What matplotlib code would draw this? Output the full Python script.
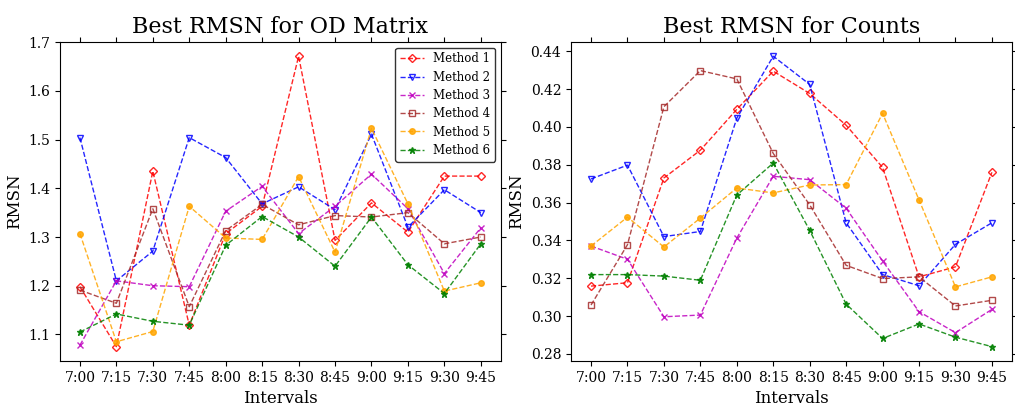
import matplotlib
matplotlib.use("Agg")
import matplotlib.pyplot as plt

plt.rcParams['font.family'] = 'DejaVu Serif'

intervals = ["7:00", "7:15", "7:30", "7:45", "8:00", "8:15",
             "8:30", "8:45", "9:00", "9:15", "9:30", "9:45"]

# Best RMSN for OD matrix
od_m1 = [1.198, 1.075, 1.435, 1.119, 1.307, 1.363, 1.671, 1.293, 1.370, 1.310, 1.425, 1.425]
od_m2 = [1.504, 1.210, 1.271, 1.504, 1.463, 1.368, 1.403, 1.356, 1.511, 1.320, 1.397, 1.350]
od_m3 = [1.078, 1.210, 1.200, 1.198, 1.353, 1.404, 1.307, 1.363, 1.429, 1.358, 1.225, 1.319]
od_m4 = [1.191, 1.164, 1.358, 1.157, 1.313, 1.367, 1.325, 1.344, 1.341, 1.350, 1.286, 1.300]
od_m5 = [1.307, 1.085, 1.106, 1.363, 1.298, 1.295, 1.424, 1.269, 1.523, 1.368, 1.189, 1.206]
od_m6 = [1.105, 1.142, 1.127, 1.119, 1.283, 1.342, 1.300, 1.240, 1.341, 1.243, 1.184, 1.286]

# Best RMSN for counts
ct_m1 = [0.3158, 0.3176, 0.3730, 0.3877, 0.4093, 0.4295, 0.4177, 0.4009, 0.3786, 0.3207, 0.3260, 0.3760]
ct_m2 = [0.3725, 0.3798, 0.3420, 0.3447, 0.4046, 0.4374, 0.4225, 0.3493, 0.3219, 0.3160, 0.3379, 0.3493]
ct_m3 = [0.3370, 0.3300, 0.2996, 0.3005, 0.3412, 0.3739, 0.3721, 0.3570, 0.3291, 0.3023, 0.2912, 0.3035]
ct_m4 = [0.3058, 0.3377, 0.4107, 0.4298, 0.4254, 0.3860, 0.3588, 0.3268, 0.3198, 0.3207, 0.3053, 0.3083]
ct_m5 = [0.3370, 0.3523, 0.3365, 0.3518, 0.3677, 0.3651, 0.3693, 0.3695, 0.4072, 0.3614, 0.3154, 0.3207]
ct_m6 = [0.3219, 0.3219, 0.3211, 0.3189, 0.3640, 0.3809, 0.3453, 0.3063, 0.2881, 0.2958, 0.2888, 0.2838]

labels = ["Method 1", "Method 2", "Method 3", "Method 4", "Method 5", "Method 6"]
colors = ["red", "blue", "m", "brown", "orange", "green"]
markers = ["D", "v", "x", "s", "o", "*"]
filled = [False, False, True, False, True, True]

fig, axes = plt.subplots(1, 2, figsize=(10.15, 4.09), dpi=100)
fig.subplots_adjust(left=0.059, right=0.997, top=0.898, bottom=0.117, wspace=0.159)

panels = [
    (axes[0], [od_m1, od_m2, od_m3, od_m4, od_m5, od_m6], "Best RMSN for OD Matrix"),
    (axes[1], [ct_m1, ct_m2, ct_m3, ct_m4, ct_m5, ct_m6], "Best RMSN for Counts"),
]

for ax, series, title in panels:
    for vals, lab, c, mk, fl in zip(series, labels, colors, markers, filled):
        ax.plot(intervals, vals, linestyle='--', marker=mk, color=c, label=lab,
                linewidth=1, markersize=4 if mk != "*" else 5,
                markerfacecolor=c if fl else 'none', alpha=0.85)
    ax.set_title(title, fontsize=16)
    ax.set_xlabel("Intervals", fontsize=12)
    ax.set_ylabel("RMSN", fontsize=12)
    ax.tick_params(labelsize=10, top=True, right=True)

axes[0].legend(loc='upper right', fontsize=8.5, edgecolor='black', labelspacing=0.45)

fig.savefig("out.png", dpi=100)
